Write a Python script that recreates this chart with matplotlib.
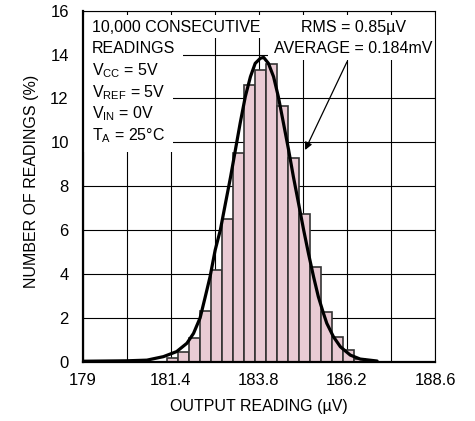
import matplotlib
matplotlib.use("Agg")
import matplotlib.pyplot as plt
from matplotlib.patches import Rectangle

plt.rcParams["font.family"] = ["Liberation Sans", "DejaVu Sans"]
plt.rcParams["mathtext.fontset"] = "custom"
plt.rcParams["mathtext.rm"] = "Liberation Sans"
plt.rcParams["mathtext.default"] = "regular"

# Histogram of readings (bin left edges in uV, percent of readings)
bin_edges = [181.3, 181.6, 181.9, 182.2, 182.5, 182.8, 183.1, 183.4, 183.7,
             184.0, 184.3, 184.6, 184.9, 185.2, 185.5, 185.8, 186.1, 186.4]
bin_width = 0.3
percent = [0.15, 0.45, 1.1, 2.3, 4.2, 6.5, 9.5, 12.6, 13.3,
           13.55, 11.65, 9.3, 6.75, 4.3, 2.25, 1.12, 0.55, 0.1]

# Fitted distribution curve
curve_x = [179.0, 179.6, 180.2, 180.75, 181.2, 181.56, 181.84, 182.02, 182.2,
           182.34, 182.47, 182.61, 182.75, 182.89, 183.03, 183.16, 183.29,
           183.43, 183.57, 183.70, 183.84, 183.93, 184.06, 184.20, 184.33,
           184.47, 184.61, 184.74, 184.88, 185.02, 185.15, 185.29, 185.42,
           185.56, 185.65, 185.83, 186.02, 186.29, 186.56, 187.02]
curve_y = [0.02, 0.03, 0.04, 0.07, 0.23, 0.46, 0.84, 1.29, 2.0,
           2.96, 3.87, 5.09, 6.0, 7.22, 8.43, 9.65, 10.87,
           12.08, 12.99, 13.6, 13.83, 13.87, 13.6, 12.99, 12.08,
           10.87, 9.65, 8.43, 7.22, 6.0, 4.94, 3.87, 2.96,
           2.2, 1.75, 1.14, 0.68, 0.3, 0.12, 0.03]

x_ticks = [179, 181.4, 183.8, 186.2, 188.6]
x_grid = [179, 180.2, 181.4, 182.6, 183.8, 185, 186.2, 187.4, 188.6]
y_ticks = [0, 2, 4, 6, 8, 10, 12, 14, 16]

fig = plt.figure(figsize=(4.75, 4.21), dpi=100)
ax = fig.add_axes([0.174, 0.1409, 0.742, 0.8337])

ax.set_xlim(179, 188.6)
ax.set_ylim(0, 16)

# grid
for gx in x_grid:
    ax.axvline(gx, color="black", lw=0.8, zorder=0.5)
for gy in y_ticks:
    ax.axhline(gy, color="black", lw=0.8, zorder=0.5)

# white areas behind the text
mask = dict(facecolor="white", edgecolor="none", transform=ax.transAxes, zorder=1)
ax.add_patch(Rectangle((0, 0.922), 1, 0.065, **mask))
ax.add_patch(Rectangle((0, 0.8596), 0.285, 0.0624, **mask))
ax.add_patch(Rectangle((0.526, 0.8596), 0.474, 0.0624, **mask))
ax.add_patch(Rectangle((0, 0.597), 0.256, 0.2626, **mask))

ax.bar(bin_edges, percent, width=bin_width, align="edge",
       color="#e9cbd4", edgecolor="#333333", linewidth=1.2, zorder=2)
ax.plot(curve_x, curve_y, color="black", lw=2.3, zorder=3,
        solid_joinstyle="round", solid_capstyle="round")

ax.set_xticks(x_ticks)
ax.set_xticklabels(["179", "181.4", "183.8", "186.2", "188.6"])
ax.set_yticks(y_ticks)
ax.tick_params(length=0, labelsize=12)
ax.tick_params(axis="x", pad=8)
ax.tick_params(axis="y", pad=10)

for s in ["left", "bottom"]:
    ax.spines[s].set_linewidth(1.6)
for s in ["top", "right"]:
    ax.spines[s].set_linewidth(0.8)

ax.set_xlabel("OUTPUT READING (\u00b5V)", fontsize=11.5, labelpad=8)
ax.set_ylabel("NUMBER OF READINGS (%)", fontsize=11.5)
ax.yaxis.set_label_coords(-0.125, 0.515)

left_lines = ["10,000 CONSECUTIVE", "READINGS", "V$_{CC}$ = 5V",
              "V$_{REF}$ = 5V", "V$_{IN}$ = 0V", "T$_{A}$ = 25\u00b0C"]
for i, t in enumerate(left_lines):
    ax.text(0.026, 0.953 - i * 0.0618, t, transform=ax.transAxes,
            fontsize=11.5, va="center", ha="left", zorder=4)

ax.text(0.768, 0.953, "RMS = 0.85\u00b5V", transform=ax.transAxes,
        fontsize=11.5, va="center", ha="center", zorder=4)
ax.text(0.768, 0.891, "AVERAGE = 0.184mV", transform=ax.transAxes,
        fontsize=11.5, va="center", ha="center", zorder=4)

ax.annotate("", xy=(185.06, 9.65), xytext=(186.2, 13.67),
            arrowprops=dict(arrowstyle="-|>", color="black", lw=0.9,
                            mutation_scale=11, shrinkA=0, shrinkB=0),
            zorder=4)

fig.savefig("out.png", dpi=100)
